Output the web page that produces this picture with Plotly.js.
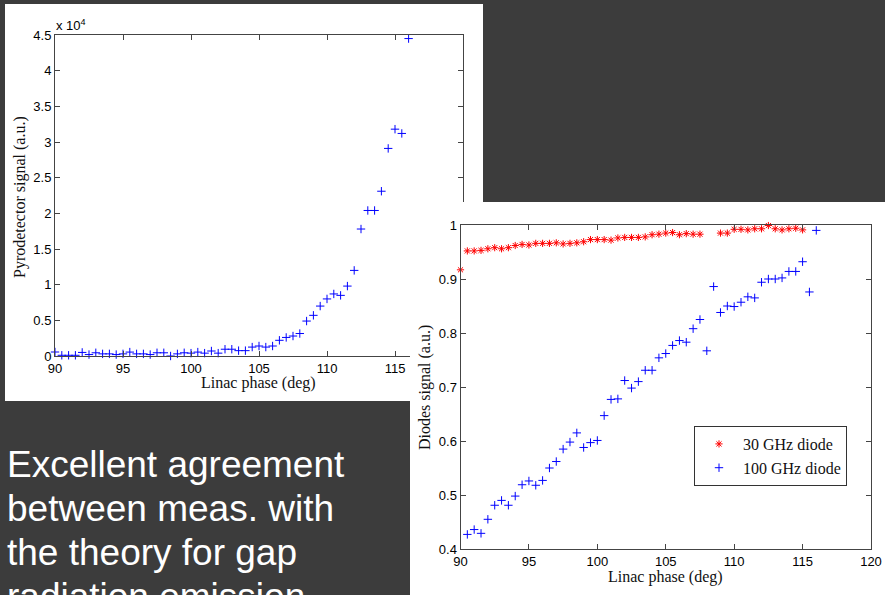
<!DOCTYPE html>
<html><head><meta charset="utf-8">
<script src="https://cdn.plot.ly/plotly-3.0.1.min.js"></script>
<style>html,body{margin:0;padding:0;background:#3c3c3c;overflow:hidden;} #chart{width:885px;height:595px;}</style>
</head><body><div id="chart"></div>
<script>
// ---------- data ----------
const phasePyro = [90,90.5,91,91.5,92,92.5,93,93.5,94,94.5,95,95.5,96,96.5,97,97.5,98,98.5,99,99.5,100,100.5,101,101.5,102,102.5,103,103.5,104,104.5,105,105.5,106,106.5,107,107.5,108,108.5,109,109.5,110,110.5,111,111.5,112,112.5,113,113.5,114,114.5,115,115.5,116];
const pyroSignal = [560,100,100,100,500,200,450,300,300,200,300,550,300,300,200,450,450,0,300,450,400,550,400,700,400,950,950,750,750,1250,1400,1250,1400,2200,2600,2800,3150,4900,5700,7000,8000,8700,8500,9800,12000,17800,20400,20400,23100,29100,31800,31200,44500];

const phaseDiode30 = [90,90.5,91,91.5,92,92.5,93,93.5,94,94.5,95,95.5,96,96.5,97,97.5,98,98.5,99,99.5,100,100.5,101,101.5,102,102.5,103,103.5,104,104.5,105,105.5,106,106.5,107,107.5,108,108.5,109,109.5,110,110.5,111,111.5,112,112.5,113,113.5,114,114.5,115];
const diode30 = [0.917,0.952,0.952,0.953,0.956,0.958,0.956,0.958,0.962,0.964,0.963,0.966,0.966,0.966,0.967,0.965,0.966,0.967,0.969,0.973,0.973,0.973,0.972,0.976,0.977,0.977,0.977,0.978,0.982,0.983,0.985,0.986,0.982,0.984,0.983,0.983,null,null,0.985,0.985,0.992,0.992,0.991,0.993,0.993,0.999,0.993,0.991,0.993,0.994,0.991];

const phaseDiode100 = [90.5,91,91.5,92,92.5,93,93.5,94,94.5,95,95.5,96,96.5,97,97.5,98,98.5,99,99.5,100,100.5,101,101.5,102,102.5,103,103.5,104,104.5,105,105.5,106,106.5,107,107.5,108,108.5,109,109.5,110,110.5,111,111.5,112,112.5,113,113.5,114,114.5,115,115.5,116];
const diode100 = [0.427,0.436,0.429,0.455,0.481,0.490,0.481,0.498,0.519,0.526,0.518,0.527,0.550,0.562,0.585,0.598,0.615,0.588,0.597,0.601,0.647,0.677,0.678,0.712,0.698,0.710,0.731,0.731,0.754,0.762,0.777,0.786,0.783,0.808,0.825,0.767,0.886,0.838,0.850,0.849,0.857,0.867,0.865,0.894,0.900,0.900,0.902,0.914,0.914,0.932,0.876,0.990];

const pyroTickVals = [0,5000,10000,15000,20000,25000,30000,35000,40000,45000];
const pyroTickText = ['0','0.5','1','1.5','2','2.5','3','3.5','4','4.5'];
const phaseTicksLeft = [90,95,100,105,110,115];
const phaseTicksRight = [90,95,100,105,110,115,120];
const diodeTickVals = [0.4,0.5,0.6,0.7,0.8,0.9,1];
const diodeTickText = ['0.4','0.5','0.6','0.7','0.8','0.9','1'];
const seriesNames = ['30 GHz diode','100 GHz diode'];
const slideLines = ['Excellent agreement','between meas. with','the theory for gap','radiation emission'];

// ---------- layout helpers ----------
const W = 885, H = 595;
const px = v => v / W;
const py = v => 1 - v / H;

const axisStyle = {
  showline: true, linecolor: '#444', linewidth: 1, mirror: 'ticks',
  ticks: 'inside', ticklen: 5, tickwidth: 1, tickcolor: '#444',
  showgrid: false, zeroline: false, fixedrange: true,
  tickfont: {family: 'Liberation Sans, Arial, sans-serif', size: 13, color: '#000'}
};
const serif = {family: 'Liberation Serif, Times New Roman, serif', size: 16, color: '#111'};

const traces = [
  {x: phasePyro, y: pyroSignal, xaxis: 'x', yaxis: 'y', type: 'scatter', mode: 'markers',
   showlegend: false, cliponaxis: false, hoverinfo: 'skip',
   marker: {symbol: 'cross-thin-open', size: 6, color: '#0000ff', line: {width: 1, color: '#0000ff'}}},
  {x: [], y: [], xaxis: 'x2', yaxis: 'y2', type: 'scatter', mode: 'markers', showlegend: false, hoverinfo: 'skip'},
  {x: phaseDiode30, y: diode30, xaxis: 'x3', yaxis: 'y3', type: 'scatter', mode: 'markers',
   name: seriesNames[0], cliponaxis: false, hoverinfo: 'skip',
   marker: {symbol: 'asterisk-open', size: 6, color: '#ff0000', line: {width: 1, color: '#ff0000'}}},
  {x: phaseDiode100, y: diode100, xaxis: 'x3', yaxis: 'y3', type: 'scatter', mode: 'markers',
   name: seriesNames[1], cliponaxis: false, hoverinfo: 'skip',
   marker: {symbol: 'cross-thin-open', size: 6, color: '#0000ff', line: {width: 1, color: '#0000ff'}}}
];

const annotations = [
  {text: 'x 10<sup>4</sup>', xref: 'paper', yref: 'paper', x: px(54), y: py(25), xanchor: 'left', yanchor: 'middle',
   showarrow: false, font: {family: 'Liberation Sans, Arial, sans-serif', size: 13, color: '#000'}},
  {text: 'Linac phase (deg)', xref: 'paper', yref: 'paper', x: px(258), y: py(383), xanchor: 'center', yanchor: 'middle', showarrow: false, font: serif},
  {text: 'Pyrodetector signal (a.u.)', xref: 'paper', yref: 'paper', x: px(20), y: py(197), xanchor: 'center', yanchor: 'middle', textangle: -90, showarrow: false, font: serif},
  {text: 'Linac phase (deg)', xref: 'paper', yref: 'paper', x: px(665), y: py(577), xanchor: 'center', yanchor: 'middle', showarrow: false, font: serif},
  {text: 'Diodes signal (a.u.)', xref: 'paper', yref: 'paper', x: px(425), y: py(388), xanchor: 'center', yanchor: 'middle', textangle: -90, showarrow: false, font: serif}
];
const lineCenters = [464, 508, 552, 596];
slideLines.forEach((t, i) => annotations.push({
  text: t, xref: 'paper', yref: 'paper', x: px(5), y: py(lineCenters[i]), xanchor: 'left', yanchor: 'middle',
  showarrow: false, font: {family: 'Liberation Sans, Arial, sans-serif', size: 37, color: '#ffffff'}
}));

const layout = {
  width: W, height: H, margin: {l: 0, r: 0, t: 0, b: 0, pad: 0},
  paper_bgcolor: '#3c3c3c', plot_bgcolor: '#ffffff',
  xaxis: Object.assign({}, axisStyle, {domain: [px(55), px(463)], range: [90, 120], tickvals: phaseTicksLeft, anchor: 'y'}),
  yaxis: Object.assign({}, axisStyle, {domain: [py(356), py(35)], range: [0, 45000], tickvals: pyroTickVals, ticktext: pyroTickText, anchor: 'x'}),
  xaxis2: {visible: false, domain: [px(410), 1], range: [0, 1], anchor: 'y2', fixedrange: true},
  yaxis2: {visible: false, domain: [0, py(202)], range: [0, 1], anchor: 'x2', fixedrange: true},
  xaxis3: Object.assign({}, axisStyle, {domain: [px(460.5), px(871)], range: [90, 120], tickvals: phaseTicksRight, anchor: 'y3'}),
  yaxis3: Object.assign({}, axisStyle, {domain: [py(549), py(225)], range: [0.4, 1], tickvals: diodeTickVals, ticktext: diodeTickText, anchor: 'x3'}),
  shapes: [
    {type: 'rect', xref: 'paper', yref: 'paper', x0: px(5), x1: px(483), y0: py(401), y1: py(4), fillcolor: '#ffffff', line: {width: 0}, layer: 'below'},
    {type: 'rect', xref: 'x2', yref: 'y2', x0: -0.1, x1: 1.1, y0: -0.1, y1: 1.1, fillcolor: '#ffffff', line: {width: 0}, layer: 'below'}
  ],
  annotations: annotations,
  showlegend: true,
  legend: {x: px(694), y: py(426), xanchor: 'left', yanchor: 'top', bgcolor: '#ffffff', bordercolor: '#333', borderwidth: 1,
           font: serif, tracegroupgap: 0, itemwidth: 38}
};

Plotly.newPlot('chart', traces, layout, {displayModeBar: false, staticPlot: true});
</script>
</body></html>
